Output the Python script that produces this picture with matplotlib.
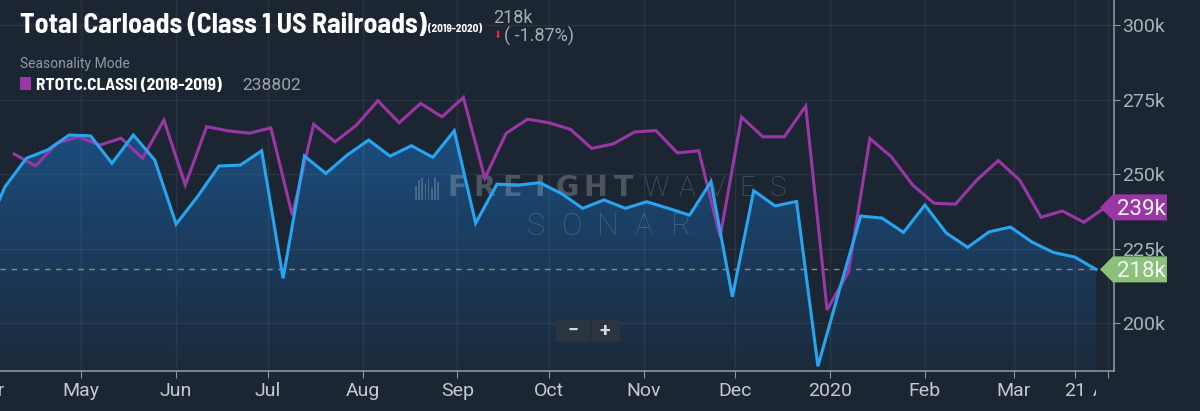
import numpy as np
import pandas as pd
import matplotlib
matplotlib.use("Agg")
import matplotlib.pyplot as plt
import matplotlib.dates as mdates
import matplotlib.transforms as mtransforms
from matplotlib.colors import LinearSegmentedColormap
from matplotlib.patches import Polygon, FancyBboxPatch, Rectangle

plt.rcParams['font.family'] = ['Roboto', 'DejaVu Sans']

# === Data (thousands of carloads, weekly) ===
weeks_2019_20 = pd.date_range("2019-03-30", periods=53, freq="7D")
carloads_2019_20 = [
    229.0, 245.7, 255.3, 258.1, 263.1, 262.8, 253.6, 263.1, 254.7, 233.2,
    242.4, 252.7, 253.0, 257.8, 215.0, 256.0, 250.2, 256.4, 261.4, 256.0,
    259.5, 255.6, 264.5, 233.5, 246.6, 246.3, 247.1, 243.5, 238.5, 241.3,
    238.5, 240.7, 238.5, 236.2, 247.4, 208.8, 244.4, 239.3, 240.8, 185.5,
    211.0, 235.9, 235.2, 230.4, 239.6, 230.2, 225.4, 230.6, 232.2, 227.2,
    223.7, 222.15, 218.0,
]
# prior year, shifted one year forward (seasonality mode)
weeks_2018_19 = pd.date_range("2019-04-09", periods=52, freq="7D")
carloads_2018_19 = [
    256.7, 252.7, 260.3, 262.5, 259.7, 262.0, 255.3, 268.1, 246.3, 265.9,
    264.5, 263.7, 265.5, 236.2, 266.7, 260.8, 266.4, 274.6, 267.2, 273.7,
    269.2, 275.7, 248.6, 263.7, 268.4, 267.2, 265.0, 258.6, 260.1, 264.1,
    264.6, 257.1, 257.8, 228.9, 269.1, 262.5, 262.5, 272.8, 204.4, 217.2,
    261.9, 255.8, 246.3, 240.2, 239.9, 248.0, 254.5, 248.0, 235.5, 237.6,
    233.8, 238.802,
]

tick_dates = ["2019-04-01", "2019-05-01", "2019-06-01", "2019-07-01", "2019-08-01",
              "2019-09-01", "2019-10-01", "2019-11-01", "2019-12-01", "2020-01-01",
              "2020-02-01", "2020-03-01", "2020-03-21", "2020-04-01"]
tick_labels = ["Apr", "May", "Jun", "Jul", "Aug", "Sep", "Oct", "Nov", "Dec",
               "2020", "Feb", "Mar", "21", "Apr"]
y_ticks = [200, 225, 250, 275, 300]

# === Style ===
BG = "#1c2632"
BLUE = "#28a5f0"
MAGENTA = "#9b36a6"
GREEN = "#8bc27a"
AXIS = "#8a949d"
MARK = "#c9d1d9"
W, H = 1200, 411
PX = mtransforms.IdentityTransform()   # display pixels, origin bottom-left
CONDENSED = ['Barlow Semi Condensed', 'DejaVu Sans']

x_min = pd.Timestamp("2019-04-04 09:00")
x_max = pd.Timestamp("2020-04-02 21:00")
y_min, y_max = 183.9, 308.4

fig = plt.figure(figsize=(W / 100, H / 100), dpi=100, facecolor=BG)
ax = fig.add_axes([0, 40 / H, 1114 / W, 371 / H], facecolor=BG)

# gradient area under the current year
base = ax.fill_between(weeks_2019_20, carloads_2019_20, y_min, facecolor="none", edgecolor="none")
cmap = LinearSegmentedColormap.from_list("area", ["#1c2a3b", "#1b4f82"])
x_num = mdates.date2num(weeks_2019_20)
grad = np.linspace(0, 1, 256).reshape(-1, 1)
img = ax.imshow(grad, extent=[x_num[0], x_num[-1], y_min, max(carloads_2019_20) + 4],
                origin="lower", aspect="auto", cmap=cmap, zorder=1)
img.set_clip_path(base.get_paths()[0], ax.transData)

ax.plot(weeks_2018_19, carloads_2018_19, color=MAGENTA, lw=2.2, zorder=3, solid_joinstyle="miter")
ax.plot(weeks_2019_20, carloads_2019_20, color=BLUE, lw=2.2, zorder=4, solid_joinstyle="miter")
ax.axhline(carloads_2019_20[-1], color="#9aa3ac", lw=1, ls=(0, (4, 4)), alpha=0.8, zorder=2.6)


# === Watermark (letter-spaced text) ===
def spaced_word(word, x0, x1, y_mid, size, weight, family, alpha):
    pitch = (x1 - x0) / len(word)
    for i, ch in enumerate(word):
        t = ax.text(x0 + pitch * (i + 0.5), H - y_mid, ch, transform=PX, ha="center",
                    va="center", fontsize=size, fontweight=weight, family=family,
                    color=MARK, alpha=alpha, zorder=2.5)
        t.set_clip_on(False)

spaced_word("FREIGHT", 443, 637, 188, 20.5, "bold", ['DejaVu Sans'], 0.28)
spaced_word("WAVES", 641, 793, 188, 20, "light", ['Roboto'], 0.28)
spaced_word("SONAR", 518, 698, 226, 22, "light", ['Roboto'], 0.25)
for i, h in enumerate([14, 20, 22, 16, 22, 12, 22, 18]):
    ax.add_artist(Rectangle((415 + i * 3.2, H - 200), 1.6, h, transform=PX,
                            facecolor=MARK, alpha=0.25, zorder=2.5))

# === Axes cosmetics ===
ax.set_xlim(x_min, x_max)
ax.set_ylim(y_min, y_max)
for side in ["top", "left"]:
    ax.spines[side].set_visible(False)
for side in ["right", "bottom"]:
    ax.spines[side].set_color(AXIS)
    ax.spines[side].set_linewidth(1.2)
ax.set_axisbelow("line")
ax.grid(color="white", alpha=0.06, lw=1)

in_range = [pd.Timestamp(d) for d in tick_dates if x_min <= pd.Timestamp(d) <= x_max]
ax.set_xticks(in_range)
ax.tick_params(axis="x", length=5, color=AXIS, labelbottom=False)
ax.yaxis.tick_right()
ax.set_yticks(y_ticks)
ax.set_yticklabels([f"{v}k" for v in y_ticks])
ax.tick_params(axis="y", length=4, color=AXIS, pad=2, labelsize=14, labelcolor="#a9b2bb")

# x labels, cut where the series ends like the original
clip = mtransforms.TransformedBbox(
    mtransforms.Bbox([[x_num[0] - 400, -1], [x_num[-1], 0]]),
    mtransforms.blended_transform_factory(ax.transData, ax.transAxes))
lab_trans = mtransforms.offset_copy(ax.get_xaxis_transform(), fig=fig, y=-20, units="dots")
for d, lab in zip(tick_dates, tick_labels):
    t = fig.text(mdates.date2num(pd.Timestamp(d)), 0, lab, transform=lab_trans,
                 ha="center", va="center", fontsize=14, color="#c3cad1")
    t.set_clip_box(clip)
    t.set_clip_on(True)


# === Last value tags on the right axis ===
def value_tag(value, text, color):
    anchor = mtransforms.ScaledTranslation(1.0, value, ax.get_yaxis_transform())
    trans = mtransforms.Affine2D().scale(fig.dpi / 100) + anchor
    shape = [(-14, 0), (-1, 13), (53, 13), (53, -13), (-1, -13)]
    fig.add_artist(Polygon(shape, closed=True, transform=trans, facecolor=color,
                           edgecolor="none", zorder=6))
    fig.text(27, 0, text, transform=trans, ha="center", va="center_baseline",
             fontsize=16, color="#f5f7f5", zorder=7)

value_tag(carloads_2018_19[-1], f"{carloads_2018_19[-1]:.0f}k", MAGENTA)
value_tag(carloads_2019_20[-1], f"{carloads_2019_20[-1]:.0f}k", GREEN)

# zoom buttons
fig.add_artist(FancyBboxPatch((556, H - 342), 64, 22, boxstyle="round,pad=0,rounding_size=3",
                              transform=PX, facecolor="#2a3540", edgecolor="none", zorder=5))
fig.add_artist(Rectangle((589.5, H - 342), 1.2, 22, transform=PX, facecolor="#1e2832", zorder=5))
fig.text(573, H - 331, "\u2212", transform=PX, ha="center", va="center", fontsize=14,
         fontweight="bold", color="#d5dadf", zorder=6)
fig.text(605, H - 331, "+", transform=PX, ha="center", va="center", fontsize=14,
         fontweight="bold", color="#d5dadf", zorder=6)

# === Header ===
change = (carloads_2019_20[-1] / carloads_2019_20[-2] - 1) * 100
fig.text(20, H - 32.7, "Total Carloads (Class 1 US Railroads)", transform=PX, family=CONDENSED,
         fontsize=20, fontweight="bold", color="white", va="baseline")
fig.text(428, H - 31.7, "(2019-2020)", transform=PX, family=CONDENSED, fontsize=8,
         fontweight="bold", color="white", va="baseline")
fig.text(493, H - 23.3, f"{carloads_2019_20[-1]:.0f}k", transform=PX, fontsize=13,
         color="#a3acb5", va="baseline")
fig.text(497.5, H - 35, "\u2b07", transform=PX, family=['DejaVu Sans'], fontsize=7,
         color="#e8263a", ha="center", va="center")
fig.text(504, H - 41.5, f"( {change:.2f}%)", transform=PX, fontsize=13,
         color="#a3acb5", va="baseline")
fig.text(20, H - 68, "Seasonality Mode", transform=PX, fontsize=10, color="#8e98a2", va="baseline")
fig.add_artist(Rectangle((20, H - 90), 11, 13, transform=PX, facecolor=MAGENTA, zorder=5))
fig.text(36.5, H - 89.5, "RTOTC.CLASSI (2018-2019)", transform=PX, family=CONDENSED, fontsize=12.5,
         fontweight="bold", color="white", va="baseline")
fig.text(242, H - 89.5, f"{carloads_2018_19[-1] * 1000:.0f}", transform=PX, fontsize=12.5,
         color="#9ba4ad", va="baseline")

fig.savefig("out.png", dpi=100, facecolor=BG)
